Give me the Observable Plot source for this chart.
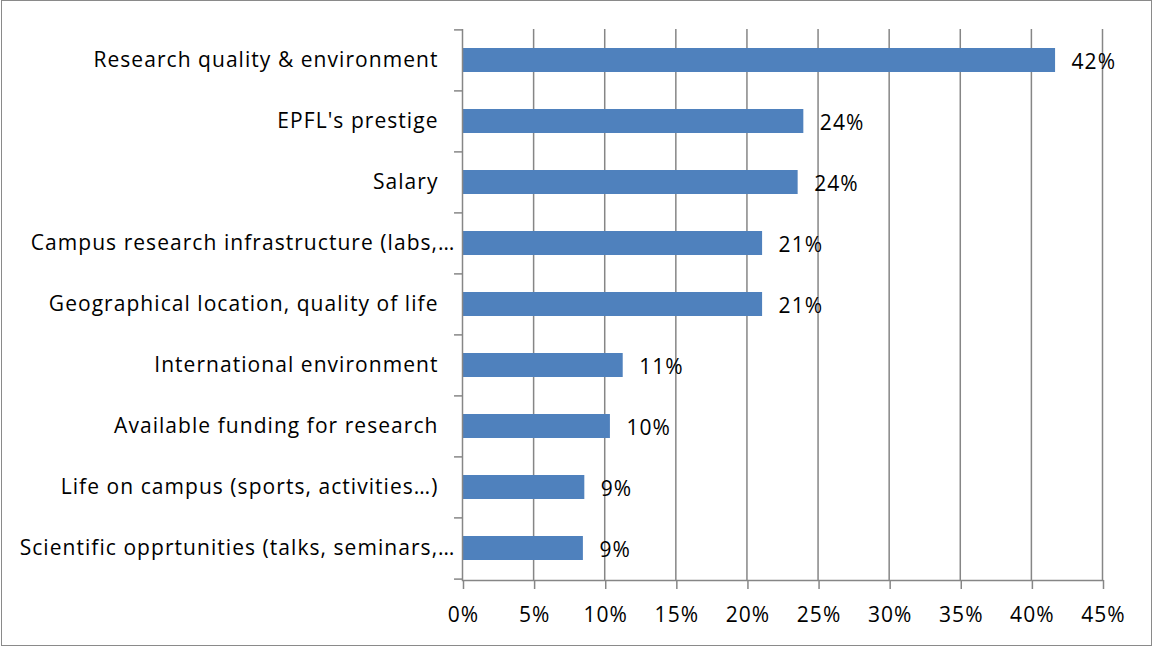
<!DOCTYPE html>
<html>
<head>
<meta charset="utf-8">
<script src="https://cdn.jsdelivr.net/npm/d3@7"></script>
<script src="https://cdn.jsdelivr.net/npm/@observablehq/plot@0.6"></script>
<style>
  html, body { margin: 0; padding: 0; background: #fff; }
  #wrap { position: relative; width: 1155px; height: 648px; overflow: hidden; }
  #border { position: absolute; left: 1px; top: 0px; width: 1149px; height: 644px; border: 1.5px solid #8a8a8a; pointer-events: none; }
  svg { display: block; }
</style>
</head>
<body>
<div id="wrap"><div id="border"></div></div>
<script>
const categories = [
  "Research quality & environment",
  "EPFL's prestige",
  "Salary",
  "Campus research infrastructure (labs,…",
  "Geographical location, quality of life",
  "International environment",
  "Available funding for research",
  "Life on campus (sports, activities…)",
  "Scientific opprtunities (talks, seminars,…"
];
const values = [0.417, 0.240, 0.236, 0.211, 0.211, 0.113, 0.104, 0.086, 0.085];
const xTicks = [0, 0.05, 0.10, 0.15, 0.20, 0.25, 0.30, 0.35, 0.40, 0.45];

const data = categories.map((c, i) => ({category: c, value: values[i]}));
const truncated = categories.filter(c => c.endsWith(",…"));
const full = categories.filter(c => !c.endsWith(",…"));

const W = 1155, H = 648;
const mTop = 29, mBottom = 68, mLeft = 462, mRight = 53;
const step = (H - mTop - mBottom) / categories.length;
const grid = "#868686";
const font = "'Open Sans', sans-serif";
const fs = 21;

const chart = Plot.plot({
  width: W,
  height: H,
  marginTop: mTop,
  marginBottom: mBottom,
  marginLeft: mLeft,
  marginRight: mRight,
  style: {fontFamily: font, fontSize: fs + "px", letterSpacing: "1.05px", color: "#000", background: "transparent"},
  x: {domain: [0, 0.45]},
  y: {domain: categories, paddingInner: 0.6, paddingOuter: 0.3},
  marks: [
    Plot.ruleX(xTicks.slice(1), {stroke: grid, strokeWidth: 1.5, strokeOpacity: 1}),
    Plot.barX(data, {x: "value", y: "category", fill: "#4F81BD"}),
    Plot.ruleX([0], {stroke: grid, strokeWidth: 1.5}),
    Plot.frame({anchor: "bottom", stroke: grid, strokeWidth: 1.5}),
    Plot.ruleY(categories, {y: d => d, x1: -0.0056, x2: 0, dy: -step / 2, stroke: grid, strokeWidth: 1.5}),
    Plot.ruleY(categories.slice(-1), {y: d => d, x1: -0.0056, x2: 0, dy: step / 2, stroke: grid, strokeWidth: 1.5}),
    Plot.axisX({ticks: xTicks, tickFormat: d => Math.round(d * 100) + "%", tickSize: 9, tickPadding: 18, dx: 1, stroke: grid, strokeWidth: 1.5, strokeOpacity: 1, label: null, fontSize: fs, fill: "#000"}),
    Plot.axisY({ticks: full, tickSize: 0, tickPadding: 24, label: null, fontSize: fs, fill: "#000"}),
    Plot.axisY({ticks: truncated, tickSize: 0, tickPadding: 24, dx: 17, label: null, fontSize: fs, fill: "#000"}),
    Plot.text(data, {x: "value", y: "category", text: d => Math.round(d.value * 100) + "%", dx: 16, dy: 2, textAnchor: "start", fontSize: fs, fill: "#000"})
  ]
});
document.getElementById("wrap").prepend(chart);
</script>
</body>
</html>
